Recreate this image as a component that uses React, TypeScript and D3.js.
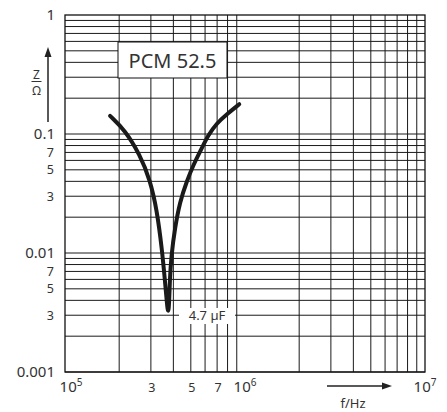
import * as d3 from "d3";
import React, { useEffect, useRef } from "react";

const width = 447;
const height = 412;

// impedance curve (f in Hz, Z in ohm)
const curveFreq = [
  1.78e5, 2.15e5, 2.61e5, 2.97e5, 3.24e5, 3.46e5, 3.59e5, 3.69e5, 3.74e5,
  3.79e5, 3.82e5, 3.9e5, 4.08e5, 4.35e5, 4.74e5, 5.16e5, 5.75e5, 6.25e5,
  6.96e5, 7.94e5, 9.29e5,
];
const curveZ = [
  0.142, 0.108, 0.0667, 0.041, 0.023, 0.0106, 0.0059, 0.00366, 0.0031,
  0.00366, 0.00593, 0.00962, 0.0162, 0.027, 0.0397, 0.0549, 0.0758, 0.098,
  0.123, 0.147, 0.178,
];

const yMajor = [0.001, 0.01, 0.1, 1];
const yMajorLabels = ["0.001", "0.01", "0.1", "1"];
const yMinorLabeled = [0.003, 0.005, 0.007, 0.03, 0.05, 0.07];
const yMinorLabels = ["3", "5", "7", "3", "5", "7"];

const xMajor = [1e5, 1e6, 1e7];
const xMajorExp = ["5", "6", "7"];
const xMinorLabeled = [3e5, 5e5, 7e5];
const xMinorLabels = ["3", "5", "7"];

const seriesName = "PCM 52.5";
const capLabel = "4.7 µF";

const font = "'Noto Sans', sans-serif";
const textColor = "#333";

export default function App() {
  const holderRef = useRef<HTMLDivElement | null>(null);

  useEffect(() => {
    const holder = holderRef.current;
    if (!holder || holder.hasChildNodes()) return;

    const x = d3.scaleLog().domain([1e5, 1e7]).range([65, 425]);
    const y = d3.scaleLog().domain([0.001, 1]).range([372, 15]);

    const svg = d3
      .select(holder)
      .append("svg")
      .attr("width", width)
      .attr("height", height)
      .attr("style", "position:absolute;left:0;top:0;background:#fff");

    // grid: every 1..9 step of each decade
    const xGrid: number[] = [];
    for (let e = 5; e < 7; e++)
      for (let k = 2; k <= 9; k++) xGrid.push(k * Math.pow(10, e));
    const yGrid: number[] = [];
    for (let e = -3; e < 0; e++)
      for (let k = 1; k <= 9; k++) yGrid.push(k * Math.pow(10, e));

    const grid = svg.append("g").attr("stroke", "#1a1a1a").attr("stroke-width", 1);
    grid
      .selectAll("line.v")
      .data(xGrid)
      .join("line")
      .attr("x1", (d) => x(d))
      .attr("x2", (d) => x(d))
      .attr("y1", y(0.001))
      .attr("y2", y(1));
    grid
      .selectAll("line.h")
      .data(yGrid)
      .join("line")
      .attr("x1", x(1e5))
      .attr("x2", x(1e7))
      .attr("y1", (d) => y(d))
      .attr("y2", (d) => y(d));

    svg
      .append("rect")
      .attr("x", x(1e5))
      .attr("y", y(1))
      .attr("width", x(1e7) - x(1e5))
      .attr("height", y(0.001) - y(1))
      .attr("fill", "none")
      .attr("stroke", "#111")
      .attr("stroke-width", 1.3);

    // the curve (smoothed through the read points)
    const line = d3
      .line<number>()
      .x((_, i) => x(curveFreq[i]))
      .y((d) => y(d))
      .curve(d3.curveBasis);
    svg
      .append("path")
      .attr("d", line(curveZ))
      .attr("fill", "none")
      .attr("stroke", "#1a1a1a")
      .attr("stroke-width", 4)
      .attr("stroke-linecap", "round");

    // series name box
    svg
      .append("rect")
      .attr("x", 118)
      .attr("y", 42)
      .attr("width", 109)
      .attr("height", 36)
      .attr("fill", "#fff")
      .attr("stroke", "#111")
      .attr("stroke-width", 1);
    svg
      .append("text")
      .attr("x", 172.5)
      .attr("y", 67.5)
      .attr("text-anchor", "middle")
      .attr("font-family", font)
      .attr("font-size", 20)
      .attr("fill", textColor)
      .text(seriesName);

    // capacitance label
    svg
      .append("rect")
      .attr("x", 179)
      .attr("y", 308)
      .attr("width", 56)
      .attr("height", 16)
      .attr("fill", "#fff");
    svg
      .append("text")
      .attr("x", 207)
      .attr("y", 320)
      .attr("text-anchor", "middle")
      .attr("font-family", font)
      .attr("font-size", 13)
      .attr("fill", textColor)
      .text(capLabel);

    // y labels
    svg
      .append("g")
      .selectAll("text")
      .data(yMajor)
      .join("text")
      .attr("x", 55)
      .attr("y", (d) => y(d) + 5)
      .attr("text-anchor", "end")
      .attr("font-family", font)
      .attr("font-size", 15)
      .attr("fill", textColor)
      .text((_, i) => yMajorLabels[i]);
    svg
      .append("g")
      .selectAll("text")
      .data(yMinorLabeled)
      .join("text")
      .attr("x", 54)
      .attr("y", (d) => y(d) + 4.5)
      .attr("text-anchor", "end")
      .attr("font-family", font)
      .attr("font-size", 12.5)
      .attr("fill", textColor)
      .text((_, i) => yMinorLabels[i]);

    // x labels
    const xl = svg
      .append("g")
      .selectAll("text")
      .data(xMajor)
      .join("text")
      .attr("x", (d, i) => x(d) + (i === 0 ? 6 : 0))
      .attr("y", 392)
      .attr("text-anchor", "middle")
      .attr("font-family", font)
      .attr("font-size", 15)
      .attr("fill", textColor);
    xl.append("tspan").text("10");
    xl.append("tspan")
      .attr("font-size", 10)
      .attr("dy", -6)
      .text((_, i) => xMajorExp[i]);
    svg
      .append("g")
      .selectAll("text")
      .data(xMinorLabeled)
      .join("text")
      .attr("x", (d) => x(d) + 1)
      .attr("y", 392)
      .attr("text-anchor", "middle")
      .attr("font-family", font)
      .attr("font-size", 12.5)
      .attr("fill", textColor)
      .text((_, i) => xMinorLabels[i]);

    // axis title arrows
    svg
      .append("line")
      .attr("x1", 327)
      .attr("x2", 384)
      .attr("y1", 386)
      .attr("y2", 386)
      .attr("stroke", "#222")
      .attr("stroke-width", 1.5);
    svg
      .append("path")
      .attr("d", "M382,382.5 L392,386 L382,389.5 Z")
      .attr("fill", "#222");
    svg
      .append("text")
      .attr("x", 353)
      .attr("y", 408)
      .attr("text-anchor", "middle")
      .attr("font-family", font)
      .attr("font-size", 13)
      .attr("fill", textColor)
      .text("f/Hz");

    svg
      .append("line")
      .attr("x1", 48)
      .attr("x2", 48)
      .attr("y1", 122)
      .attr("y2", 55)
      .attr("stroke", "#222")
      .attr("stroke-width", 1.5);
    svg
      .append("path")
      .attr("d", "M44.5,57 L48,47 L51.5,57 Z")
      .attr("fill", "#222");
    svg
      .append("text")
      .attr("x", 36.5)
      .attr("y", 79)
      .attr("text-anchor", "middle")
      .attr("font-family", font)
      .attr("font-size", 12)
      .attr("fill", textColor)
      .text("Z");
    svg
      .append("line")
      .attr("x1", 31.5)
      .attr("x2", 41.5)
      .attr("y1", 81.5)
      .attr("y2", 81.5)
      .attr("stroke", textColor)
      .attr("stroke-width", 1);
    svg
      .append("text")
      .attr("x", 36.5)
      .attr("y", 94.5)
      .attr("text-anchor", "middle")
      .attr("font-family", font)
      .attr("font-size", 12)
      .attr("fill", textColor)
      .text("Ω");
  }, []);

  return <div ref={holderRef} />;
}
